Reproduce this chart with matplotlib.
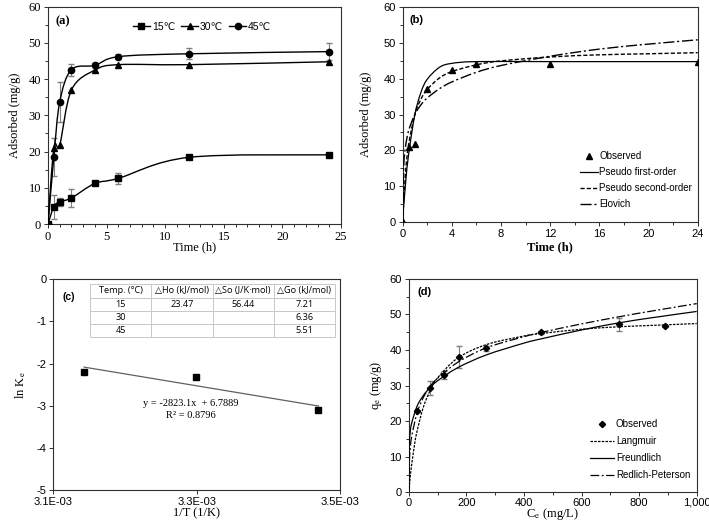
import numpy as np
import matplotlib
matplotlib.use("Agg")
import matplotlib.pyplot as plt
from matplotlib.path import Path
from matplotlib.patches import PathPatch
from matplotlib.lines import Line2D
from matplotlib.ticker import MultipleLocator, FuncFormatter

SERIF = ['Liberation Serif', 'DejaVu Serif']
SANS = ['Liberation Sans', 'DejaVu Sans']
plt.rcParams['mathtext.fontset'] = 'stix'
plt.rcParams['axes.unicode_minus'] = False

# ---------------- data ----------------
# (a) kinetics at three temperatures
time_a = [0, 0.5, 1, 2, 4, 6, 12, 24]
q15 = [0, 4.8, 6.1, 7.2, 11.2, 12.6, 18.4, 19.1]
q15_err = [0, 3.3, 1.2, 2.4, 0.4, 1.6, 0.4, 0.4]
q30 = [0, 21.0, 21.8, 37.0, 42.5, 44.0, 44.0, 44.8]
q45 = [0, 18.5, 33.7, 42.6, 43.8, 46.2, 47.0, 47.6]
q45_err = [0, 5.3, 5.4, 1.7, 0.6, 0.7, 1.5, 2.3]
legend_a = ['15\u2103', '30\u2103', '45\u2103']

# (b) kinetic model fits
time_obs_b = [0, 0.5, 1, 2, 4, 6, 12, 24]
q_obs_b = [0, 21.0, 21.8, 37.0, 42.5, 44.0, 44.0, 44.8]
t_pfo = [0, 0.25, 0.5, 1, 1.5, 2, 3, 4, 6, 12, 24]
q_pfo = [0, 10.8, 18.9, 29.9, 36.2, 39.8, 43.2, 44.3, 44.8, 44.8, 44.8]
t_pso = [0, 0.25, 0.5, 1, 1.5, 2, 3, 4, 6, 8, 12, 16, 20, 24]
q_pso = [0, 13.9, 21.6, 30.0, 34.3, 37.0, 40.2, 42.0, 43.9, 45.0, 46.1, 46.7, 47.0, 47.3]
t_elo = [0, 0.1, 0.25, 0.5, 1, 1.5, 2, 3, 4, 6, 8, 12, 16, 20, 24]
q_elo = [0, 15.4, 21.1, 25.5, 30.0, 32.7, 34.6, 37.2, 39.1, 41.8, 43.7, 46.3, 48.3, 49.7, 50.9]
legend_b = ['Observed', 'Pseudo first-order', 'Pseudo second-order', 'Elovich']

# (c) van't Hoff
inv_T = [3.143e-3, 3.299e-3, 3.470e-3]
lnK = [-2.19, -2.33, -3.10]
slope_c, intercept_c = -2823.1, 6.7889
xticks_c = [3.1e-3, 3.3e-3, 3.5e-3]
xticklabels_c = ['3.1E-03', '3.3E-03', '3.5E-03']
table_header = ['Temp. (\u00b0C)', '\u25b3Ho (kJ/mol)', '\u25b3So (J/K\u00b7mol)', '\u25b3Go (kJ/mol)']
table_rows = [['15', '23.47', '56.44', '7.21'],
              ['30', '', '', '6.36'],
              ['45', '', '', '5.51']]

# (d) isotherms
Ce_obs = [28, 74, 124, 176, 267, 461, 729, 889]
qe_obs = [22.8, 29.3, 32.9, 38.0, 40.4, 45.0, 47.2, 46.7]
qe_err = [0.3, 1.9, 1.1, 3.1, 0.6, 0.4, 1.8, 0.3]
c_lang = [0, 5, 10, 20, 28, 50, 75, 100, 170, 270, 400, 460, 600, 730, 850, 1000]
q_lang = [0, 4.1, 7.6, 13.2, 16.8, 23.7, 28.7, 32.1, 37.7, 41.5, 43.9, 44.6, 45.8, 46.5, 46.9, 47.4]
c_freu = [0, 1, 5, 10, 28, 50, 75, 100, 170, 270, 400, 460, 600, 730, 850, 1000]
q_freu = [0, 11.9, 16.7, 19.3, 24.0, 27.1, 29.5, 31.3, 35.0, 38.6, 41.9, 43.1, 45.6, 47.6, 49.1, 50.8]
c_rp = [0, 2, 5, 10, 28, 50, 75, 100, 170, 270, 400, 460, 600, 730, 850, 1000]
q_rp = [0, 8.0, 12.0, 15.5, 22.0, 26.5, 29.8, 32.0, 36.5, 40.6, 43.7, 44.9, 47.3, 49.3, 51.0, 53.0]
legend_d = ['Observed', 'Langmuir', 'Freundlich', 'Redlich-Peterson']


def smooth_path(x, y):
    pts = np.column_stack([np.asarray(x, float), np.asarray(y, float)])
    n = len(pts)
    verts = [pts[0]]
    codes = [Path.MOVETO]
    for i in range(n - 1):
        p0 = pts[i - 1] if i > 0 else pts[i]
        p1 = pts[i]
        p2 = pts[i + 1]
        p3 = pts[i + 2] if i + 2 < n else pts[i + 1]
        c1 = p1 + (p2 - p0) / 6.0
        c2 = p2 - (p3 - p1) / 6.0
        verts += [c1, c2, p2]
        codes += [Path.CURVE4] * 3
    return Path(verts, codes)


def add_smooth(ax, x, y, **kw):
    patch = PathPatch(smooth_path(x, y), fill=False, transform=ax.transData, **kw)
    ax.add_patch(patch)
    return patch


W, H = 709, 528
fig = plt.figure(figsize=(W / 100, H / 100), dpi=100)


def axes_px(l, t, r, b):
    return fig.add_axes([l / W, 1 - b / H, (r - l) / W, (b - t) / H])


def style(ax, fam, size=8):
    for s in ax.spines.values():
        s.set_linewidth(0.8)
        s.set_color('#303030')
    ax.tick_params(which='both', direction='out', width=0.7, colors='#303030',
                   labelcolor='black', labelsize=size, pad=2)
    ax.tick_params(which='major', length=3)
    ax.tick_params(which='minor', length=2)
    for lab in ax.get_xticklabels() + ax.get_yticklabels():
        lab.set_family(fam)


ERR = '#7f7f7f'

# ---------- (a) ----------
axa = axes_px(48, 6.7, 341, 224)
axa.set_xlim(0, 25)
axa.set_ylim(0, 60)
axa.xaxis.set_major_locator(MultipleLocator(5))
axa.xaxis.set_minor_locator(MultipleLocator(1))
axa.yaxis.set_major_locator(MultipleLocator(10))
axa.yaxis.set_minor_locator(MultipleLocator(5))
axa.errorbar(time_a, q15, yerr=q15_err, fmt='none', ecolor=ERR, elinewidth=0.8, capsize=2.5)
axa.errorbar(time_a, q45, yerr=q45_err, fmt='none', ecolor=ERR, elinewidth=0.8, capsize=2.5)
for yv, mk in [(q15, 's'), (q30, '^'), (q45, 'o')]:
    add_smooth(axa, time_a, yv, edgecolor='black', lw=1.0, zorder=3)
    axa.plot(time_a, yv, mk, color='black', ms=4.5, zorder=4, linestyle='none')
style(axa, SERIF, 9)
handles_a = [Line2D([], [], color='black', lw=1.0, marker=m, ms=4.5) for m in ['s', '^', 'o']]
axa.legend(handles_a, legend_a, loc='upper left', bbox_to_anchor=((133 - 48) / 293, 1 - (22 - 6.7) / 217.3),
           ncol=3, frameon=False, prop={'family': SANS, 'size': 7.5}, handlelength=1.6,
           handletextpad=0.2, columnspacing=0.6, borderpad=0, borderaxespad=0)
axa.text(0.024, 0.935, '(a)', transform=axa.transAxes, family=SERIF, fontweight='bold', fontsize=9, va='center')
axa.text(0.5, -0.108, 'Time (h)', transform=axa.transAxes, family=SERIF, fontsize=9, ha='center', va='center')
axa.text(-0.112, 0.5, 'Adsorbed (mg/g)', transform=axa.transAxes, family=SERIF, fontsize=9,
         ha='center', va='center', rotation=90)

# ---------- (b) ----------
axb = axes_px(402.5, 7.3, 697.7, 221.7)
axb.set_xlim(0, 24)
axb.set_ylim(0, 60)
axb.xaxis.set_major_locator(MultipleLocator(4))
axb.xaxis.set_minor_locator(MultipleLocator(2))
axb.yaxis.set_major_locator(MultipleLocator(10))
axb.yaxis.set_minor_locator(MultipleLocator(5))
add_smooth(axb, t_pfo, q_pfo, edgecolor='black', lw=0.9, zorder=3)
add_smooth(axb, t_pso, q_pso, edgecolor='black', lw=1.0, linestyle=(0, (3, 1.5)), zorder=3)
add_smooth(axb, t_elo, q_elo, edgecolor='black', lw=1.0, linestyle=(0, (8, 2, 1.5, 2)), zorder=3)
axb.plot(time_obs_b, q_obs_b, '^', color='black', ms=4.5, linestyle='none', zorder=4)
style(axb, SANS, 8)
handles_b = [Line2D([], [], color='black', marker='^', ms=4.5, linestyle='none'),
             Line2D([], [], color='black', lw=0.9),
             Line2D([], [], color='black', lw=1.0, linestyle=(0, (3, 1.5))),
             Line2D([], [], color='black', lw=1.0, linestyle=(0, (8, 2, 1.5, 2)))]
axb.legend(handles_b, legend_b, loc='upper left', bbox_to_anchor=((580 - 402.5) / 295.2, 1 - (151 - 7.3) / 214.4),
           frameon=False, prop={'family': SANS, 'size': 7}, handlelength=1.85,
           handletextpad=0.15, labelspacing=0.62, borderpad=0, borderaxespad=0)
axb.text(0.025, 0.94, '(b)', transform=axb.transAxes, family=SANS, fontweight='bold', fontsize=8, va='center')
axb.text(0.5, -0.12, 'Time (h)', transform=axb.transAxes, family=SERIF, fontweight='bold', fontsize=9,
         ha='center', va='center')
axb.text(-0.125, 0.5, 'Adsorbed (mg/g)', transform=axb.transAxes, family=SERIF, fontsize=9,
         ha='center', va='center', rotation=90)

# ---------- (c) ----------
axc = axes_px(53.3, 279.3, 340, 490)
axc.set_xlim(3.1e-3, 3.5e-3)
axc.set_ylim(-5, 0)
axc.set_xticks(xticks_c)
axc.set_xticklabels(xticklabels_c)
axc.set_yticks([0, -1, -2, -3, -4, -5])
x_tr = np.array([inv_T[0], inv_T[-1]])
axc.plot(x_tr, slope_c * x_tr + intercept_c, color='#606060', lw=0.9, zorder=3)
axc.plot(inv_T, lnK, 's', color='black', ms=4.5, linestyle='none', zorder=4)
style(axc, SANS, 8)
tb = axc.table(cellText=table_rows, colLabels=table_header, cellLoc='center',
               bbox=[0.128, 0.7247, 0.8546, 0.2516])
tb.auto_set_font_size(False)
for (r, c), cell in tb.get_celld().items():
    cell.set_edgecolor('#c8c8c8')
    cell.set_linewidth(0.7)
    cell.get_text().set_fontsize(6.6)
    cell.get_text().set_family(['Open Sans', 'DejaVu Sans'])
    cell.PAD = 0.01
axc.text(0.033, 0.915, '(c)', transform=axc.transAxes, family=SANS, fontweight='bold', fontsize=7.5, va='center')
axc.text(0.48, 0.41, 'y = -2823.1x  + 6.7889', transform=axc.transAxes, family=SERIF, fontsize=7.5,
         ha='center', va='center')
axc.text(0.48, 0.355, 'R\u00b2 = 0.8796', transform=axc.transAxes, family=SERIF, fontsize=7.5,
         ha='center', va='center')
axc.text(0.5, -0.11, '1/T (1/K)', transform=axc.transAxes, family=SERIF, fontsize=9, ha='center', va='center')
axc.text(-0.115, 0.5, r'ln K$_{\mathrm{e}}$', transform=axc.transAxes, family=SERIF, fontsize=9,
         ha='center', va='center', rotation=90)

# ---------- (d) ----------
axd = axes_px(408.7, 278.7, 696.7, 492.3)
axd.set_xlim(0, 1000)
axd.set_ylim(0, 60)
axd.xaxis.set_major_locator(MultipleLocator(200))
axd.xaxis.set_minor_locator(MultipleLocator(100))
axd.yaxis.set_major_locator(MultipleLocator(10))
axd.yaxis.set_minor_locator(MultipleLocator(5))
axd.xaxis.set_major_formatter(FuncFormatter(lambda v, p: f'{int(v):,}'))
axd.errorbar(Ce_obs, qe_obs, yerr=qe_err, fmt='none', ecolor=ERR, elinewidth=0.8, capsize=2.5)
add_smooth(axd, c_lang, q_lang, edgecolor='black', lw=0.9, linestyle=(0, (2, 1)), zorder=3)
add_smooth(axd, c_freu, q_freu, edgecolor='black', lw=0.9, zorder=3)
add_smooth(axd, c_rp, q_rp, edgecolor='black', lw=0.9, linestyle=(0, (7, 2, 1.5, 2)), zorder=3)
axd.plot(Ce_obs, qe_obs, 'D', color='black', ms=3.2, linestyle='none', zorder=4)
style(axd, SANS, 8)
axd.tick_params(axis='x', pad=1)
handles_d = [Line2D([], [], color='black', marker='D', ms=3.2, linestyle='none'),
             Line2D([], [], color='black', lw=0.9, linestyle=(0, (2, 1))),
             Line2D([], [], color='black', lw=0.9),
             Line2D([], [], color='black', lw=0.9, linestyle=(0, (7, 2, 1.5, 2)))]
axd.legend(handles_d, legend_d, loc='upper left', bbox_to_anchor=((590 - 408.7) / 288, 1 - (419 - 278.7) / 213.6),
           frameon=False, prop={'family': SANS, 'size': 7}, handlelength=2.5,
           handletextpad=0.15, labelspacing=0.72, borderpad=0, borderaxespad=0)
axd.text(0.032, 0.94, '(d)', transform=axd.transAxes, family=SANS, fontweight='bold', fontsize=8, va='center')
axd.text(0.5, -0.1, r'C$_{\mathrm{e}}$ (mg/L)', transform=axd.transAxes, family=SERIF, fontsize=9,
         ha='center', va='center')
axd.text(-0.115, 0.5, r'q$_{\mathrm{e}}$ (mg/g)', transform=axd.transAxes, family=SERIF, fontsize=9,
         ha='center', va='center', rotation=90)

fig.savefig('out.png', dpi=100)
